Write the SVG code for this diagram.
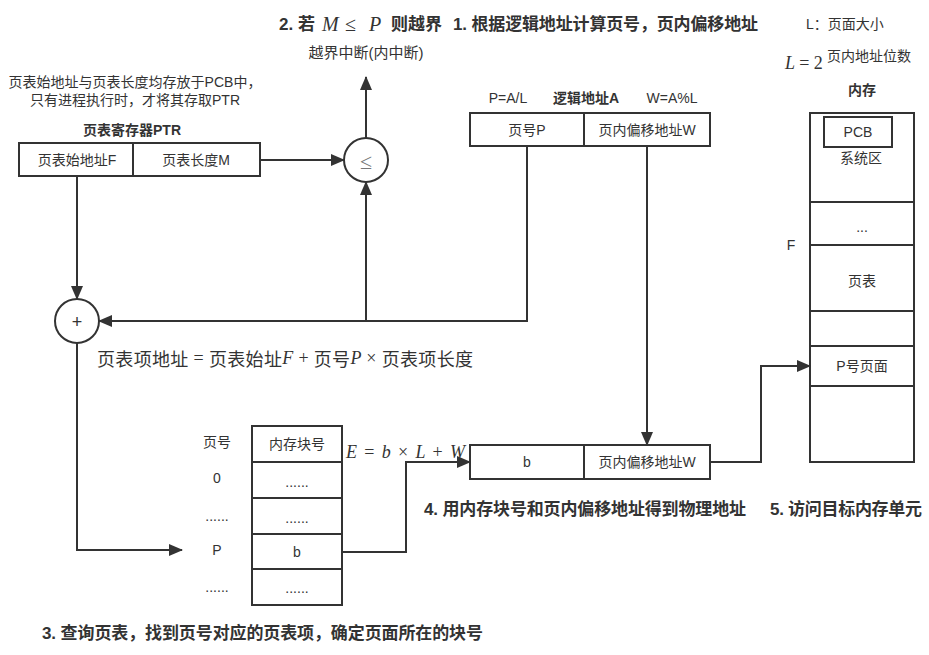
<svg xmlns="http://www.w3.org/2000/svg" width="929" height="655" viewBox="0 0 929 655">
<defs>
<marker id="arr" markerWidth="14" markerHeight="12" refX="13" refY="6" orient="auto" markerUnits="userSpaceOnUse">
<path d="M0,0 L14,6 L0,12 Z" fill="#333"/>
</marker>
<style>
.box{fill:#fff;stroke:#333;stroke-width:2}
.ln{fill:none;stroke:#333;stroke-width:2}
.t{font-family:"Liberation Sans","Noto Sans CJK SC",sans-serif;font-size:14px;fill:#333;text-anchor:middle;dominant-baseline:central}
.tl{font-family:"Liberation Sans","Noto Sans CJK SC",sans-serif;font-size:14px;fill:#333;dominant-baseline:central}
.b{font-weight:bold}
.h{font-family:"Liberation Sans","Noto Sans CJK SC",sans-serif;font-size:17px;font-weight:bold;fill:#333;dominant-baseline:central}
.m{font-family:"Liberation Serif","Noto Sans CJK SC",serif;font-style:italic;font-size:18px;fill:#333;dominant-baseline:central}
.mc{font-family:"Noto Sans CJK SC",sans-serif;font-style:normal}
.mo{font-style:normal}
</style>
</defs>

<g id="titles">
<text class="h" x="279" y="24">2. 若</text>
<text class="m" x="322" y="24" style="font-size:20px">M</text>
<text class="m mo" x="345" y="24" style="font-size:20px">≤</text>
<text class="m" x="369" y="24" style="font-size:20px">P</text>
<text class="h" x="391" y="24">则越界</text>
<text class="h" x="453" y="24" textLength="305">1. 根据逻辑地址计算页号，页内偏移地址</text>
<text class="tl" x="806" y="24">L：页面大小</text>
<text class="m" x="785" y="63">L <tspan class="mo">=</tspan> <tspan class="mo">2</tspan></text>
<text class="tl" x="827" y="56">页内地址位数</text>
<text class="h" x="42" y="633" textLength="441">3. 查询页表，找到页号对应的页表项，确定页面所在的块号</text>
<text class="h" x="424" y="509" textLength="322">4. 用内存块号和页内偏移地址得到物理地址</text>
<text class="h" x="770" y="509" textLength="152">5. 访问目标内存单元</text>
</g>

<g id="note">
<text class="t" x="135" y="82">页表始地址与页表长度均存放于PCB中，</text>
<text class="t" x="135" y="100">只有进程执行时，才将其存取PTR</text>
</g>

<g id="ptr">
<text class="t b" x="132" y="130">页表寄存器PTR</text>
<rect class="box" x="19" y="143" width="114" height="33"/>
<rect class="box" x="133" y="143" width="127" height="33"/>
<text class="t" x="77" y="160">页表始地址F</text>
<text class="t" x="196" y="160">页表长度M</text>
</g>

<g id="comparator">
<circle class="box" cx="366" cy="160" r="22"/>
<text class="m mo" x="366" y="161" text-anchor="middle" style="fill:#777;font-size:22px">≤</text>
</g>

<g id="interrupt">
<text class="t" x="366" y="52" style="font-size:15px">越界中断(内中断)</text>
</g>

<g id="logical">
<text class="t" x="508" y="98">P=A/L</text>
<text class="t b" x="586" y="98">逻辑地址A</text>
<text class="t" x="672" y="98">W=A%L</text>
<rect class="box" x="470" y="113" width="114" height="33"/>
<rect class="box" x="584" y="113" width="126" height="33"/>
<text class="t" x="527" y="130">页号P</text>
<text class="t" x="647" y="130">页内偏移地址W</text>
</g>

<g id="adder">
<circle class="box" cx="77" cy="321" r="22"/>
<text class="t" x="77" y="322" style="font-size:18px">+</text>
</g>

<g id="formula">
<text class="m" x="97" y="358" textLength="376"><tspan class="mc">页表项地址</tspan> <tspan class="mo">=</tspan> <tspan class="mc">页表始址</tspan>F <tspan class="mo">+</tspan> <tspan class="mc">页号</tspan>P <tspan class="mo">×</tspan> <tspan class="mc">页表项长度</tspan></text>
</g>

<g id="pagetable">
<text class="t" x="217" y="442">页号</text>
<text class="t" x="217" y="478">0</text>
<text class="t" x="217" y="516">......</text>
<text class="t" x="217" y="550">P</text>
<text class="t" x="217" y="587">......</text>
<rect class="box" x="252" y="426" width="90" height="36"/>
<rect class="box" x="252" y="462" width="90" height="36"/>
<rect class="box" x="252" y="498" width="90" height="36"/>
<rect class="box" x="252" y="534" width="90" height="35"/>
<rect class="box" x="252" y="569" width="90" height="36"/>
<text class="t" x="297" y="444">内存块号</text>
<text class="t" x="297" y="482">......</text>
<text class="t" x="297" y="518">......</text>
<text class="t" x="297" y="552">b</text>
<text class="t" x="297" y="588">......</text>
</g>

<g id="physical">
<text class="m" x="346" y="452" textLength="119">E <tspan class="mo">=</tspan> b <tspan class="mo">×</tspan> L <tspan class="mo">+</tspan> W</text>
<rect class="box" x="470" y="445" width="114" height="34"/>
<rect class="box" x="584" y="445" width="126" height="34"/>
<text class="t" x="527" y="462">b</text>
<text class="t" x="647" y="462">页内偏移地址W</text>
</g>

<g id="memory">
<text class="t b" x="862" y="90">内存</text>
<rect class="box" x="810" y="113" width="104" height="89"/>
<rect class="box" x="824" y="117" width="68" height="30"/>
<text class="t" x="858" y="132">PCB</text>
<text class="t" x="861" y="158">系统区</text>
<rect class="box" x="810" y="202" width="104" height="43"/>
<text class="t" x="862" y="227">...</text>
<text class="t" x="791" y="245">F</text>
<rect class="box" x="810" y="245" width="104" height="66"/>
<text class="t" x="862" y="281">页表</text>
<rect class="box" x="810" y="311" width="104" height="35"/>
<rect class="box" x="810" y="346" width="104" height="40"/>
<text class="t" x="862" y="366">P号页面</text>
<rect class="box" x="810" y="386" width="104" height="76"/>
</g>

<g id="connectors">
<path class="ln" d="M260,160 H344" marker-end="url(#arr)"/>
<path class="ln" d="M366,138 V77" marker-end="url(#arr)"/>
<path class="ln" d="M527,146 V321 H99" marker-end="url(#arr)"/>
<path class="ln" d="M366,321 V182" marker-end="url(#arr)"/>
<path class="ln" d="M77,176 V299" marker-end="url(#arr)"/>
<path class="ln" d="M77,343 V550 H182" marker-end="url(#arr)"/>
<path class="ln" d="M342,552 H406 V462 H470" marker-end="url(#arr)"/>
<path class="ln" d="M647,146 V445" marker-end="url(#arr)"/>
<path class="ln" d="M710,462 H761 V366 H810" marker-end="url(#arr)"/>
</g>
</svg>
